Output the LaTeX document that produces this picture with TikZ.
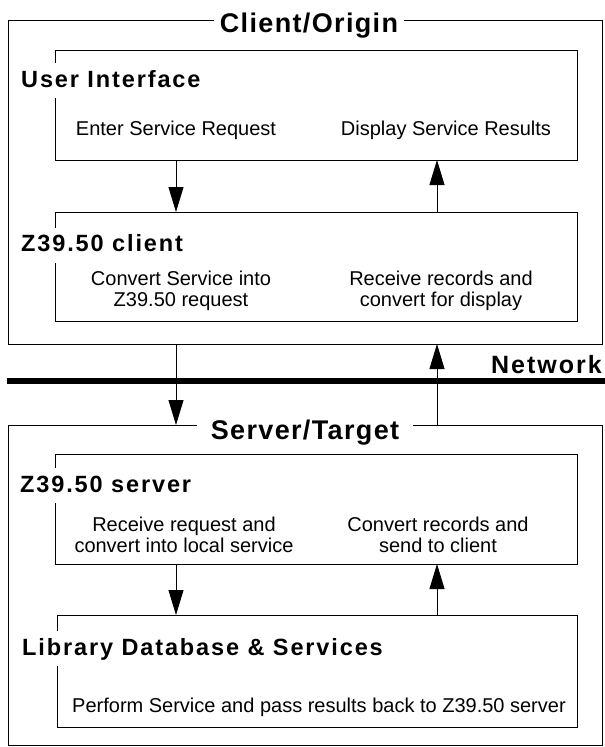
\documentclass[tikz,border=0pt]{standalone}
\usepackage{fontspec}
\setmainfont{Liberation Sans}
\newfontfamily\lblfont[LetterSpace=8]{Liberation Sans}
\newfontfamily\ttlfont[LetterSpace=5]{Liberation Sans}
\usetikzlibrary{arrows.meta}
\begin{document}
\begin{tikzpicture}[x=1pt,y=-1pt,
  box/.style={draw, line width=0.9pt, rectangle, outer sep=0pt, inner sep=0pt},
  bigtitle/.style={fill=white, inner ysep=2pt, anchor=base, font=\ttlfont\bfseries\fontsize{27}{32}\selectfont},
  lbl/.style={fill=white, anchor=base west, inner xsep=2pt, inner ysep=7pt, text height=17pt, text depth=4pt, font=\lblfont\bfseries\fontsize{23.5}{28}\selectfont},
  txt/.style={inner sep=0pt, align=center, font=\fontsize{20}{20.5}\selectfont},
  arr/.style={line width=0.9pt, -{Triangle[length=25pt,width=15pt]}},
]
\useasboundingbox (0,0) rectangle (605,747);

% boxes
\node[box, minimum width=594pt, minimum height=324pt] (client) at (305,182) {};
\node[box, minimum width=522pt, minimum height=110pt] (ui) at (316,105) {};
\node[box, minimum width=522pt, minimum height=109pt] (zc) at (316,266.5) {};
\node[box, minimum width=594pt, minimum height=320pt] (server) at (305,585) {};
\node[box, minimum width=522pt, minimum height=110pt] (zs) at (316,509) {};
\node[box, minimum width=520pt, minimum height=112pt] (lib) at (317,671) {};

% titles
\node[bigtitle, inner xsep=6pt] (tclient) at (309,32) {Client/Origin};
\node[bigtitle, inner xsep=14pt] (tserver) at (305,439) {Server/Target};

% labels
\node[lbl] (lui) at (19,87) {User Interface};
\node[lbl] (lzc) at (19,251.5) {Z39.50 client};
\node[lbl] (lzs) at (18,492) {Z39.50 server};
\node[lbl] (llib) at (20,655) {Library Database \& Services};

% network
\coordinate (nl) at (7,381);
\coordinate (nr) at (605,381);
\draw[line width=6pt] (nl) -- (nr);
\node[anchor=base east, inner sep=0pt, font=\lblfont\bfseries\fontsize{25}{30}\selectfont] (net) at (602,373) {Network};

% texts
\node[txt, anchor=base] (t1) at (176,135) {Enter Service Request};
\node[txt, anchor=base] (t2) at (446,135) {Display Service Results};
\node[txt] (t3) at (181,291) {Convert Service into\\Z39.50 request};
\node[txt] (t4) at (441,291) {Receive records and\\convert for display};
\node[txt] (t5) at (184,535) {Receive request and\\convert into local service};
\node[txt] (t6) at (438,535) {Convert records and\\send to client};
\node[txt, anchor=base west] (t7) at (72,712) {Perform Service and pass results back to Z39.50 server};

% arrows
\coordinate (dx) at (176,0);
\coordinate (ux) at (437,0);
\draw[arr] (ui.south -| dx) -- (zc.north -| dx);
\draw[arr] (zc.north -| ux) -- (ui.south -| ux);
\draw[arr] (client.south -| dx) -- (server.north -| dx);
\draw[arr] (server.north -| ux) -- (client.south -| ux);
\draw[arr] (zs.south -| dx) -- (lib.north -| dx);
\draw[arr] (lib.north -| ux) -- (zs.south -| ux);
\end{tikzpicture}
\end{document}
